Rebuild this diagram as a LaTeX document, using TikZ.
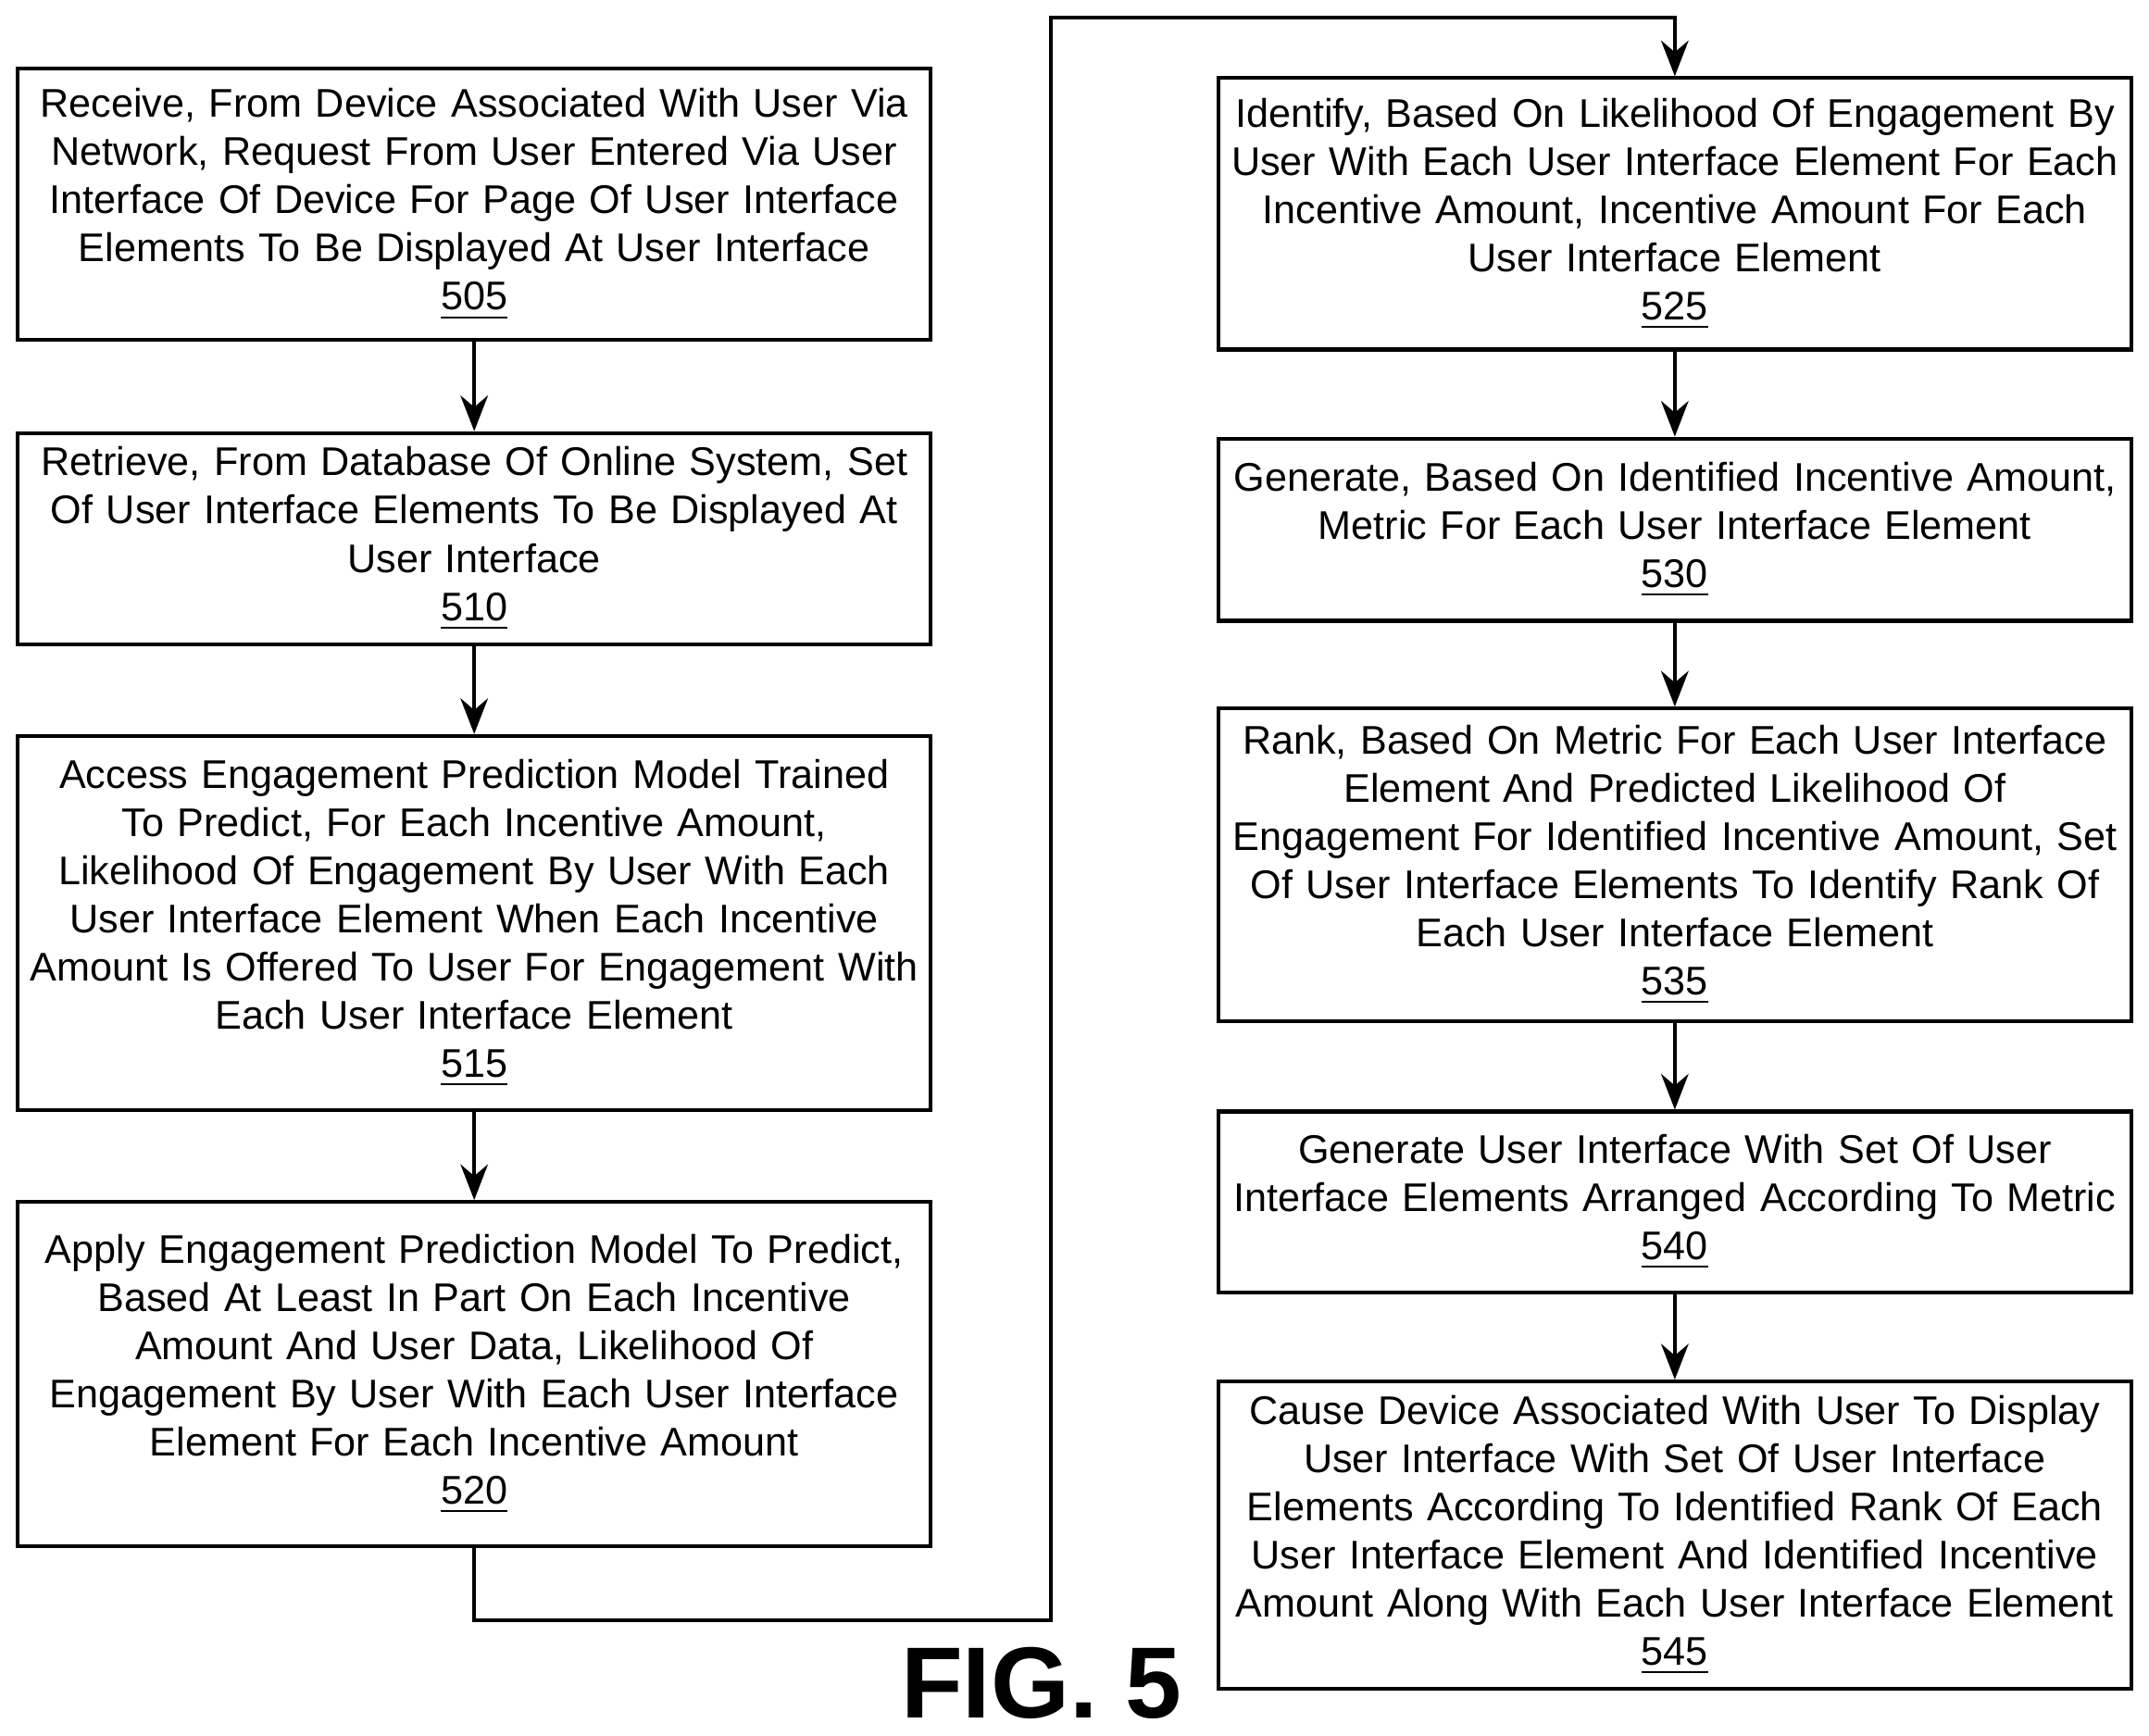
\documentclass[tikz,border=0pt]{standalone}
\usepackage{fontspec}
\setmainfont{Liberation Sans}
\usetikzlibrary{arrows.meta}
\begin{document}
\begin{tikzpicture}[
        every node/.style={rectangle, draw, line width=0.8pt, align=center, text width=6.6cm, minimum width=6.66cm, inner sep=0pt, font=\fontsize{8.3}{10}\selectfont},
        flow/.style={-{Stealth[length=2.6mm,width=2mm]}, line width=0.8pt}
        ]
        \useasboundingbox (0,0) rectangle (15.68,-12.66);
        % Columna izquierda
        \node[minimum height=1.98cm] (s505) at (3.46,-1.49) {Receive, From Device Associated With User Via\\Network, Request From User Entered Via User\\Interface Of Device For Page Of User Interface\\Elements To Be Displayed At User Interface\\\underline{505}};
        \node[minimum height=1.54cm] (s510) at (3.46,-3.93) {Retrieve, From Database Of Online System, Set\\Of User Interface Elements To Be Displayed At\\User Interface\\\underline{510}};
        \node[minimum height=2.73cm] (s515) at (3.46,-6.735) {Access Engagement Prediction Model Trained\\To Predict, For Each Incentive Amount,\\Likelihood Of Engagement By User With Each\\User Interface Element When Each Incentive\\Amount Is Offered To User For Engagement With\\Each User Interface Element\\\underline{515}};
        \node[minimum height=2.51cm] (s520) at (3.46,-10.025) {Apply Engagement Prediction Model To Predict,\\Based At Least In Part On Each Incentive\\Amount And User Data, Likelihood Of\\Engagement By User With Each User Interface\\Element For Each Incentive Amount\\\underline{520}};
        % Columna derecha
        \node[minimum height=1.98cm] (s525) at (12.22,-1.56) {Identify, Based On Likelihood Of Engagement By\\User With Each User Interface Element For Each\\Incentive Amount, Incentive Amount For Each\\User Interface Element\\\underline{525}};
        \node[minimum height=1.33cm] (s530) at (12.22,-3.865) {Generate, Based On Identified Incentive Amount,\\Metric For Each User Interface Element\\\underline{530}};
        \node[minimum height=2.28cm] (s535) at (12.22,-6.31) {Rank, Based On Metric For Each User Interface\\Element And Predicted Likelihood Of\\Engagement For Identified Incentive Amount, Set\\Of User Interface Elements To Identify Rank Of\\Each User Interface Element\\\underline{535}};
        \node[minimum height=1.32cm] (s540) at (12.22,-8.77) {Generate User Interface With Set Of User\\Interface Elements Arranged According To Metric\\\underline{540}};
        \node[minimum height=2.24cm] (s545) at (12.22,-11.2) {Cause Device Associated With User To Display\\User Interface With Set Of User Interface\\Elements According To Identified Rank Of Each\\User Interface Element And Identified Incentive\\Amount Along With Each User Interface Element\\\underline{545}};
        \node[draw=none, text width=, minimum width=0pt, font=\fontsize{21}{21}\bfseries\selectfont] (fig) at (7.6,-12.28) {FIG. 5};
        % Conexiones
        \draw[flow] (s505) -- (s510);
        \draw[flow] (s510) -- (s515);
        \draw[flow] (s515) -- (s520);
        \draw[flow] (s520.south) |- (7.67,-11.82) |- (12.22,-0.13) -- (s525.north);
        \draw[flow] (s525) -- (s530);
        \draw[flow] (s530) -- (s535);
        \draw[flow] (s535) -- (s540);
        \draw[flow] (s540) -- (s545);
\end{tikzpicture}
\end{document}
